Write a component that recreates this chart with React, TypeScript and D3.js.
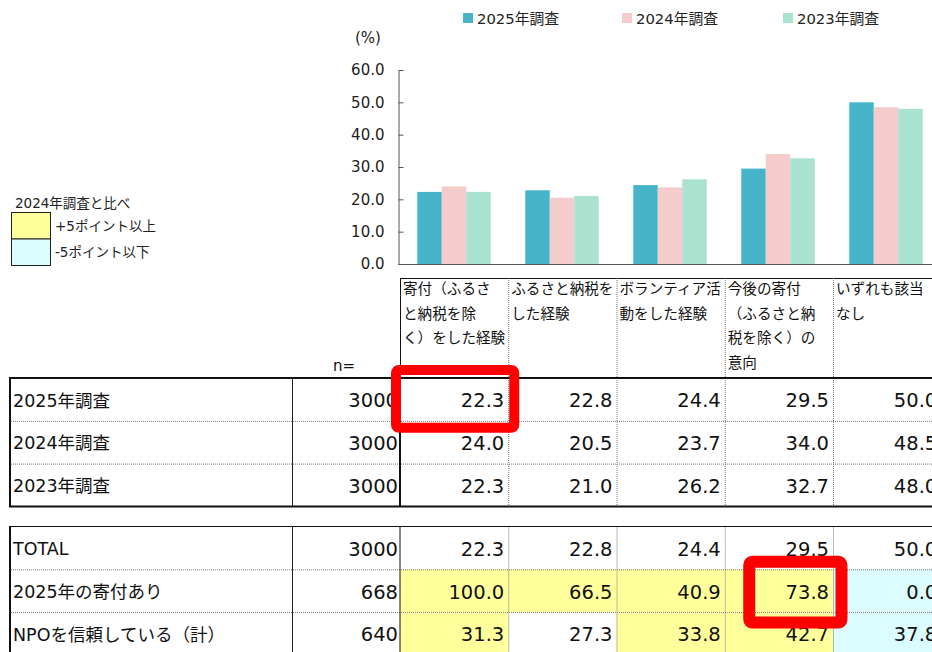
import React, { useEffect, useRef } from "react";
import * as d3 from "d3";

// chart + table data
const categories = [
  "寄付（ふるさと納税を除く）をした経験",
  "ふるさと納税をした経験",
  "ボランティア活動をした経験",
  "今後の寄付（ふるさと納税を除く）の意向",
  "いずれも該当なし",
];
const headerLines = [
  ["寄付（ふるさ", "と納税を除", "く）をした経験"],
  ["ふるさと納税を", "した経験"],
  ["ボランティア活", "動をした経験"],
  ["今後の寄付", "（ふるさと納", "税を除く）の", "意向"],
  ["いずれも該当", "なし"],
];
const surveys = ["2025年調査", "2024年調査", "2023年調査"];
const surveyN = [3000, 3000, 3000];
const values2025 = [22.3, 22.8, 24.4, 29.5, 50.0];
const values2024 = [24.0, 20.5, 23.7, 34.0, 48.5];
const values2023 = [22.3, 21.0, 26.2, 32.7, 48.0];
const surveyColors = ["#46b4c8", "#f4cccc", "#a9e3cf"];
const yTicks = [0, 10, 20, 30, 40, 50, 60];

const segments = ["TOTAL", "2025年の寄付あり", "NPOを信頼している（計）"];
const segmentN = [3000, 668, 640];
const totalValues = [22.3, 22.8, 24.4, 29.5, 50.0];
const donatedValues = [100.0, 66.5, 40.9, 73.8, 0.0];
const npoValues = [31.3, 27.3, 33.8, 42.7, 37.8];
const totalFlags = ["", "", "", "", ""];
const donatedFlags = ["up", "up", "up", "up", "down"];
const npoFlags = ["up", "", "up", "up", "down"];

const keyLabels = ["+5ポイント以上", "-5ポイント以下"];
const keyTitle = "2024年調査と比べ";

const FONT = '"DejaVu Sans", "Noto Sans CJK JP", sans-serif';
const flagFill = { up: "#ffff9c", down: "#dcfdff", "": "none" };

function App() {
  const ref = useRef(null);

  useEffect(() => {
    const svg = d3.select(ref.current);
    svg.selectAll("*").remove();
    svg.style("font-family", FONT);

    const surveyValues = [values2025, values2024, values2023];

    // columns of the table, bar groups sit on the same grid
    const cols = d3.scaleBand().domain(categories).range([400, 941.25]);
    const x0 = d3.scaleBand().domain(categories).range([400, 940]).paddingInner(0.32).paddingOuter(0.16);
    const x1 = d3.scaleBand().domain(surveys).range([0, x0.bandwidth()]);
    const y = d3.scaleLinear().domain([0, 60]).range([264, 70]);

    // legend on top
    const legX = [463, 622, 783];
    const leg = svg.append("g").selectAll("g").data(surveys).join("g")
      .attr("transform", (d, i) => `translate(${legX[i]},13)`);
    leg.append("rect").attr("width", 10).attr("height", 10)
      .attr("fill", (d, i) => surveyColors[i]);
    leg.append("text").attr("x", 14).attr("y", 5.5).attr("dy", "0.35em")
      .style("font-size", "14.8px").attr("fill", "#222").text(d => d);

    svg.append("text").attr("x", 355).attr("y", 38).attr("dy", "0.35em")
      .style("font-size", "15px").attr("fill", "#222").text("(%)");

    // y axis
    const yAxis = svg.append("g").attr("transform", "translate(398.5,0)")
      .call(d3.axisLeft(y).tickValues(yTicks).tickFormat(d3.format(".1f"))
        .tickSize(-5).tickSizeOuter(0).tickPadding(14));
    yAxis.select(".domain").attr("stroke", "#555");
    yAxis.selectAll(".tick line").attr("stroke", "#555");
    yAxis.selectAll(".tick text").style("font-size", "15px").style("font-family", FONT).attr("fill", "#222");

    svg.append("line").attr("x1", 398.5).attr("x2", 932).attr("y1", 264.5).attr("y2", 264.5)
      .attr("stroke", "#555");

    // bars
    const groups = svg.append("g").selectAll("g").data(categories).join("g")
      .attr("transform", d => `translate(${x0(d)},0)`);
    groups.selectAll("rect")
      .data((d, ci) => surveys.map((s, si) => ({ s, si, v: surveyValues[si][ci] })))
      .join("rect")
      .attr("x", d => x1(d.s))
      .attr("width", x1.bandwidth())
      .attr("y", d => y(d.v))
      .attr("height", d => y(0) - y(d.v))
      .attr("fill", d => surveyColors[d.si]);

    // left key for highlighted cells
    const key = svg.append("g");
    key.append("text").attr("x", 15).attr("y", 203).attr("dy", "0.35em")
      .style("font-size", "13.5px").attr("fill", "#222").text(keyTitle);
    ["up", "down"].forEach((f, i) => {
      key.append("rect").attr("x", 11.5).attr("y", 212.5 + i * 26.5).attr("width", 39).attr("height", 26.5)
        .attr("fill", flagFill[f]).attr("stroke", "#222").attr("stroke-width", 1);
      key.append("text").attr("x", 55).attr("y", 226 + i * 26.5).attr("dy", "0.35em")
        .style("font-size", "13.5px").attr("fill", "#222").text(keyLabels[i]);
    });

    // header cells
    const hdr = svg.append("g");
    hdr.append("line").attr("x1", 400).attr("x2", 932).attr("y1", 278.5).attr("y2", 278.5).attr("stroke", "#111");
    categories.forEach((c, i) => {
      const cx = cols(c);
      hdr.append("line").attr("x1", cx + 0.5).attr("x2", cx + 0.5).attr("y1", 278).attr("y2", 378)
        .attr("stroke", i === 0 ? "#111" : "#777").attr("stroke-dasharray", i === 0 ? null : "1,1");
      headerLines[i].forEach((ln, j) => {
        hdr.append("text").attr("x", cx + 3).attr("y", 289 + j * 24.6).attr("dy", "0.35em")
          .style("font-size", "14.6px").attr("fill", "#111").text(ln);
      });
    });
    hdr.append("text").attr("x", 333).attr("y", 366).attr("dy", "0.35em")
      .style("font-size", "15px").attr("fill", "#111").text("n=");

    const rowH = 42.8;
    const fmt = d3.format(".1f");

    function drawBlock(top, labels, ns, rows, flags, thick) {
      const g = svg.append("g");
      const bottom = top + rowH * labels.length;
      // highlighted cells
      rows.forEach((vals, r) => {
        vals.forEach((v, c) => {
          const f = flags[r][c];
          if (f) {
            g.append("rect").attr("x", cols(categories[c])).attr("y", top + r * rowH)
              .attr("width", cols.bandwidth()).attr("height", rowH).attr("fill", flagFill[f]);
          }
        });
      });
      // dotted row separators
      for (let r = 1; r < labels.length; r++) {
        g.append("line").attr("x1", 9).attr("x2", 932)
          .attr("y1", top + r * rowH + 0.5).attr("y2", top + r * rowH + 0.5)
          .attr("stroke", "#777").attr("stroke-dasharray", "1,1");
      }
      // dotted column separators
      categories.forEach((c, i) => {
        if (i === 0) return;
        g.append("line").attr("x1", cols(c) + 0.5).attr("x2", cols(c) + 0.5).attr("y1", top).attr("y2", bottom)
          .attr("stroke", "#777").attr("stroke-dasharray", "1,1");
      });
      g.append("line").attr("x1", 292.5).attr("x2", 292.5).attr("y1", top).attr("y2", bottom).attr("stroke", "#222");
      g.append("line").attr("x1", 400).attr("x2", 400).attr("y1", top).attr("y2", bottom)
        .attr("stroke", "#111").attr("stroke-width", thick ? 2 : 1);
      g.append("line").attr("x1", 10).attr("x2", 10).attr("y1", top).attr("y2", Math.min(bottom, 652))
        .attr("stroke", "#111").attr("stroke-width", 2);
      g.append("line").attr("x1", 9).attr("x2", 932).attr("y1", top).attr("y2", top)
        .attr("stroke", "#111").attr("stroke-width", thick ? 2 : 1);
      if (thick) {
        g.append("line").attr("x1", 9).attr("x2", 932).attr("y1", bottom).attr("y2", bottom)
          .attr("stroke", "#111").attr("stroke-width", 2);
      }
      // texts
      labels.forEach((lab, r) => {
        const cy = top + r * rowH + rowH / 2 + 1;
        g.append("text").attr("x", 13).attr("y", cy).attr("dy", "0.35em")
          .style("font-size", "17.5px").attr("fill", "#111").text(lab);
        g.append("text").attr("x", 398).attr("y", cy).attr("dy", "0.35em").attr("text-anchor", "end")
          .style("font-size", "19.5px").attr("fill", "#111").text(ns[r]);
        rows[r].forEach((v, c) => {
          g.append("text").attr("x", cols(categories[c]) + cols.bandwidth() - 4).attr("y", cy)
            .attr("dy", "0.35em").attr("text-anchor", "end")
            .style("font-size", "19.5px").attr("fill", "#111").text(fmt(v));
        });
      });
    }

    const top1 = 378;
    const top2 = 526.5;
    drawBlock(top1, surveys, surveyN, [values2025, values2024, values2023],
      [totalFlags, totalFlags, totalFlags], true);
    drawBlock(top2, segments, segmentN, [totalValues, donatedValues, npoValues],
      [totalFlags, donatedFlags, npoFlags], false);

    // red callout boxes
    const callouts = [
      { top: top1, row: 0, col: 0, dx: -4, dy: -8, dw: 10, dh: 15, sw: 10 },
      { top: top2, row: 1, col: 3, dx: 24.5, dy: -7.5, dw: -16, dh: 18, sw: 12 },
    ];
    svg.append("g").selectAll("rect").data(callouts).join("rect")
      .attr("x", d => cols(categories[d.col]) + d.dx)
      .attr("y", d => d.top + d.row * rowH + d.dy)
      .attr("width", d => cols.bandwidth() + d.dw)
      .attr("height", d => rowH + d.dh)
      .attr("rx", 3)
      .attr("fill", "none")
      .attr("stroke", "#ff0000")
      .attr("stroke-width", d => d.sw);
  }, []);

  return (
    <svg ref={ref} width={932} height={652}
      style={{ position: "absolute", left: 0, top: 0, background: "#fff" }} />
  );
}

export default App;
